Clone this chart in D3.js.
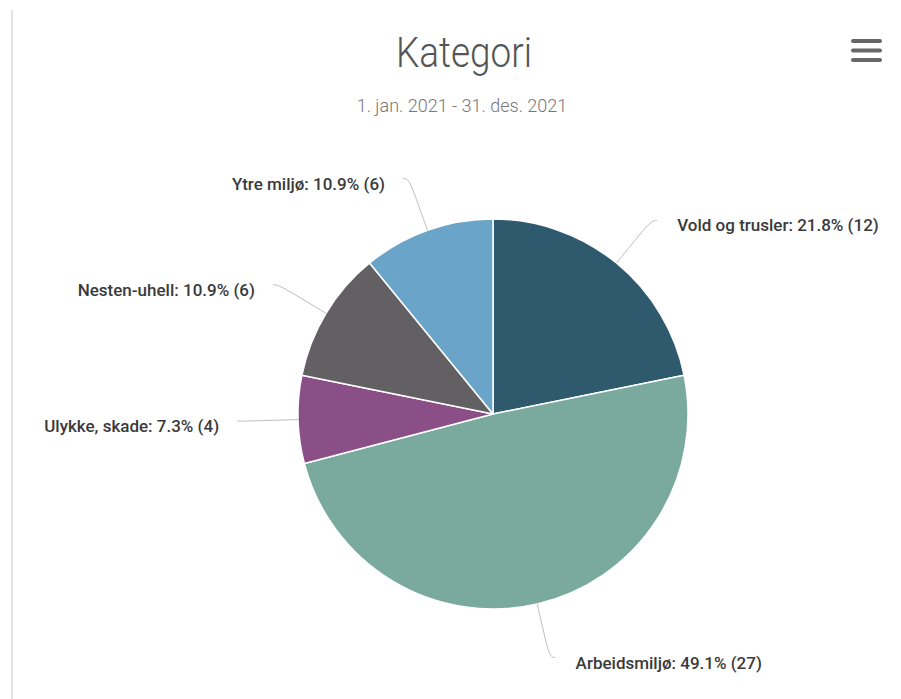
<!DOCTYPE html>
<html>
<head>
<meta charset="utf-8">
<script src="https://cdn.jsdelivr.net/npm/d3@7"></script>
<style>
  body { margin: 0; background: #fff; }
  text { font-family: Roboto, "Noto Sans", sans-serif; }
</style>
</head>
<body>
<div id="chart"></div>
<script>
var categories = ["Vold og trusler", "Arbeidsmiljø", "Ulykke, skade", "Nesten-uhell", "Ytre miljø"];
var counts = [12, 27, 4, 6, 6];
var colors = ["#2f5a6d", "#79aa9d", "#8b4f88", "#636064", "#6aa4c8"];
var title = "Kategori";
var subtitle = "1. jan. 2021 - 31. des. 2021";

var svgWidth = 901;
var svgHeight = 699;

var cx = 493, cy = 414, radius = 195;

var svg = d3
  .select("#chart")
  .append("svg")
  .attr("width", svgWidth)
  .attr("height", svgHeight);

// left border of the card
svg.append("line")
  .attr("x1", 12).attr("x2", 12)
  .attr("y1", 10).attr("y2", svgHeight)
  .attr("stroke", "#e4e4e4")
  .attr("stroke-width", 2);

svg.append("text")
  .attr("x", 464)
  .attr("y", 67)
  .attr("text-anchor", "middle")
  .attr("font-size", 42)
  .attr("font-weight", 300)
  .attr("fill", "#555")
  .attr("textLength", 136)
  .attr("lengthAdjust", "spacingAndGlyphs")
  .text(title);

svg.append("text")
  .attr("x", 462)
  .attr("y", 112)
  .attr("text-anchor", "middle")
  .attr("font-size", 18)
  .attr("font-weight", 300)
  .attr("fill", "#777")
  .text(subtitle);

// menu icon
var menu = svg.append("g").attr("stroke", "#666").attr("stroke-width", 4).attr("stroke-linecap", "round");
[41, 50.5, 60].forEach(function(y) {
  menu.append("line").attr("x1", 853).attr("x2", 880).attr("y1", y).attr("y2", y);
});

var total = d3.sum(counts);
var data = categories.map(function(c, i) {
  return { name: c, value: counts[i], color: colors[i] };
});

var pie = d3.pie().value(d => d.value).sort(null);
var arc = d3.arc().innerRadius(0).outerRadius(radius);
var arcs = pie(data);

var chartGroup = svg.append("g").attr("transform", `translate(${cx}, ${cy})`);

chartGroup.selectAll("path.slice")
  .data(arcs)
  .enter()
  .append("path")
  .attr("class", "slice")
  .attr("d", arc)
  .attr("fill", d => d.data.color)
  .attr("stroke", "#fff")
  .attr("stroke-width", 1.5)
  .attr("stroke-linejoin", "round");

// connectors + labels
function polar(a, r) {
  return [Math.sin(a) * r, -Math.cos(a) * r];
}

var line = d3.line().curve(d3.curveBasis);

arcs.forEach(function(d) {
  var mid = (d.startAngle + d.endAngle) / 2;
  var right = Math.sin(mid) >= 0;
  var p0 = polar(mid, radius);
  var p1 = polar(mid, radius + 30);
  var p2 = polar(mid, radius + 55);
  var p3 = [p2[0] + (right ? 6 : -6), p2[1]];
  chartGroup.append("path")
    .attr("d", line([p0, p1, p2, p3]))
    .attr("fill", "none")
    .attr("stroke", "#bdbdbd")
    .attr("stroke-width", 1);

  var pct = (d.data.value / total * 100).toFixed(1);
  chartGroup.append("text")
    .attr("class", "label")
    .attr("x", p3[0] + (right ? 20 : -18))
    .attr("y", p3[1] + 11)
    .attr("text-anchor", right ? "start" : "end")
    .attr("font-size", 17)
    .attr("font-weight", 500)
    .attr("fill", "#3a3a3a")
    .text(`${d.data.name}: ${pct}% (${d.data.value})`);
});
</script>
</body>
</html>
